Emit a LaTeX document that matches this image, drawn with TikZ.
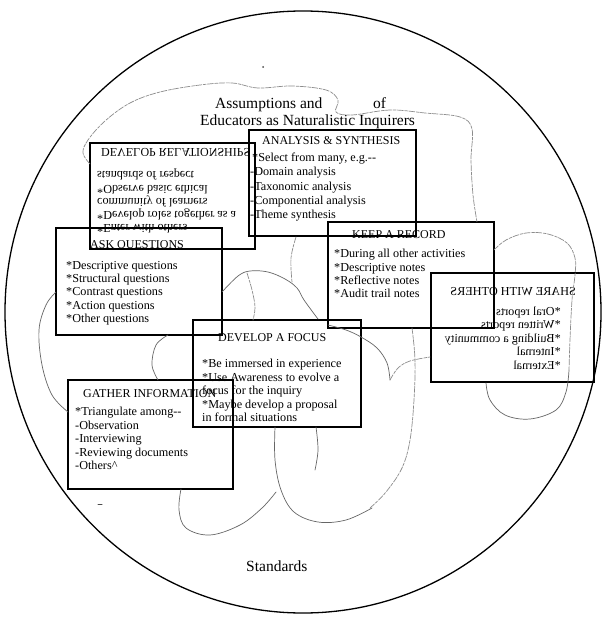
\documentclass[tikz,border=0pt]{standalone}
\usepackage{fontspec}
\setmainfont{Liberation Serif}
\usepackage{graphicx}
\begin{document}
\begin{tikzpicture}[x=1pt,y=-1pt,
  boxframe/.style={draw, line width=1.2pt, inner sep=0pt},
  ttl/.style={font=\fontsize{15.5}{17}\selectfont, anchor=base west, inner sep=0pt},
  hdr/.style={font=\fontsize{12}{13}\selectfont, anchor=base west, inner sep=0pt},
  itm/.style={font=\fontsize{12.2}{13}\selectfont, anchor=base west, inner sep=0pt},
  ritm/.style={font=\fontsize{12.2}{13}\selectfont, anchor=base east, inner sep=0pt},
  wavy/.style={black!45, line width=0.7pt, dash pattern=on 6pt off 1.5pt on 3pt off 1.2pt, line cap=round},
  solidwavy/.style={black!60, line width=0.7pt, line cap=round},
  speck/.style={black!70, line width=1pt, line cap=round}]
\useasboundingbox (0,0) rectangle (602,617);
\fill[white] (0,0) rectangle (602,617);
% outer circle
\draw[line width=1.3pt] (303,312) ellipse [x radius=298, y radius=301];

% boxes
\node[boxframe, minimum width=167, minimum height=106] (anl) at (332.5,183) {};
\node[boxframe, minimum width=165, minimum height=106] (drel) at (172.5,196) {};
\node[boxframe, minimum width=166, minimum height=107] (ask) at (139,281.5) {};
\node[boxframe, minimum width=166, minimum height=106] (keep) at (411,275) {};
\node[boxframe, minimum width=163, minimum height=109] (share) at (512.5,327.5) {};
\node[boxframe, minimum width=168, minimum height=107] (daf) at (277,373.5) {};
\node[boxframe, minimum width=165, minimum height=109] (gath) at (150.5,434.5) {};

% title
\node[ttl] (t1) at (215,109) {Assumptions and};
\node[ttl] (t2) at (373,109) {of};
\node[ttl] (t3) at (200,126) {Educators as Naturalistic Inquirers};
\node[ttl] (std) at (246,571) {Standards};

% analysis & synthesis
\node[hdr] (anlh) at (262,145) {ANALYSIS \& SYNTHESIS};
\node[itm] (anl1) at (252,162) {*Select from many, e.g.-{}-};
\node[itm] (anl2) at (250,176) {-Domain analysis};
\node[itm] (anl3) at (250,191) {-Taxonomic analysis};
\node[itm] (anl4) at (250,205) {-Componential analysis};
\node[itm] (anl5) at (250,219) {-Theme synthesis};

% develop relationships (flipped vertically)
\node[hdr] (drh) at (101,149) {\scalebox{1}[-1]{DEVELOP RELATIONSHIPS}};
\node[itm] (dr1) at (97,172) {\scalebox{1}[-1]{standards of respect}};
\node[itm] (dr2) at (97,186) {\scalebox{1}[-1]{*Observe basic ethical}};
\node[itm] (dr3) at (97,199) {\scalebox{1}[-1]{community of learners}};
\node[itm] (dr4) at (97,212) {\scalebox{1}[-1]{*Develop roles together as a}};
\node[itm] (dr5) at (97,225) {\scalebox{1}[-1]{*Enter with others}};

% ask questions
\node[hdr] (askh) at (90,248) {ASK QUESTIONS};
\node[itm] (ask1) at (66,269) {*Descriptive questions};
\node[itm] (ask2) at (66,282) {*Structural questions};
\node[itm] (ask3) at (66,295) {*Contrast questions};
\node[itm] (ask4) at (66,309) {*Action questions};
\node[itm] (ask5) at (66,322) {*Other questions};

% keep a record
\node[hdr] (keeph) at (352,239) {KEEP A RECORD};
\node[itm] (keep1) at (334,257) {*During all other activities};
\node[itm] (keep2) at (334,271) {*Descriptive notes};
\node[itm] (keep3) at (334,284) {*Reflective notes};
\node[itm] (keep4) at (334,297) {*Audit trail notes};

% share with others (mirrored)
\node[ritm] (shh) at (576,295) {\scalebox{-1}[1]{SHARE WITH OTHERS}};
\node[ritm] (sh1) at (561,315) {\scalebox{-1}[1]{*Oral reports}};
\node[ritm] (sh2) at (561,328.5) {\scalebox{-1}[1]{*Written reports}};
\node[ritm] (sh3) at (561,342) {\scalebox{-1}[1]{*Building a community}};
\node[ritm] (sh4) at (561,355.5) {\scalebox{-1}[1]{*Internal}};
\node[ritm] (sh5) at (561,369) {\scalebox{-1}[1]{*External}};

% develop a focus
\node[hdr] (dafh) at (218,341) {DEVELOP A FOCUS};
\node[itm] (daf1) at (202,367) {*Be immersed in experience};
\node[itm] (daf2) at (202,381) {*Use Awareness to evolve a};
\node[itm] (daf3) at (202,394) {focus for the inquiry};
\node[itm] (daf4) at (202,408) {*Maybe develop a proposal};
\node[itm] (daf5) at (202,421) {in formal situations};

% gather information
\node[hdr] (gathh) at (83,397) {GATHER INFORMATION};
\node[itm] (g1) at (75,415) {*Triangulate among-{}-};
\node[itm] (g2) at (75,429) {-Observation};
\node[itm] (g3) at (75,442) {-Interviewing};
\node[itm] (g4) at (75,456) {-Reviewing documents};
\node[itm] (g5) at (75,469) {-Others\^{}};

% hand-drawn wavy lines
\draw[wavy] plot[smooth, tension=0.6] coordinates {(90,164) (83,153) (88,140) (105,121) (130,103) (160,92) (200,85) (232,83) (258,88) (292,86) (326,90) (338,100) (336,112) (352,115) (390,110) (425,113) (460,117) (472,129) (471,160) (473,195) (477,222)};
\draw[wavy] plot[smooth, tension=0.6] coordinates {(494,250) (506,240) (526,233) (548,234) (567,243) (575,258) (575,275) (572,300) (570,340) (569,370)};
\draw[solidwavy] plot[smooth, tension=0.6] coordinates {(569,370) (566,392) (556,410) (530,419) (505,415) (490,400) (486,383)};
\draw[solidwavy] plot[smooth, tension=0.6] coordinates {(56,292) (46,305) (39,330) (42,365) (52,395) (68,412)};
\draw[solidwavy] plot[smooth, tension=0.6] coordinates {(168,335) (156,345) (152,365) (158,380)};
\draw[solidwavy] plot[smooth, tension=0.6] coordinates {(222,292) (238,276) (250,271) (268,272) (285,279) (297,288) (304,300) (318,319)};
\draw[wavy] plot[smooth, tension=0.6] coordinates {(247,273) (252,290) (255,307) (253,320)};
\draw[wavy] plot[smooth, tension=0.6] coordinates {(296,237) (291,258) (292,282)};
\draw[solidwavy] plot[smooth, tension=0.6] coordinates {(328,325) (346,330) (361,337) (377,348) (387,363) (390,380)};
\draw[wavy] plot[smooth, tension=0.6] coordinates {(390,380) (398,368) (410,361) (430,357)};
\draw[wavy] plot[smooth, tension=0.6] coordinates {(412,328) (415,360) (414,400) (410,440) (402,468) (386,492) (370,508)};
\draw[solidwavy] plot[smooth, tension=0.6] coordinates {(275,427) (275,460) (281,490) (294,512) (318,522) (346,520) (372,508)};
\draw[solidwavy] plot[smooth, tension=0.6] coordinates {(316,427) (318,450) (315,470)};
\draw[solidwavy] plot[smooth, tension=0.6] coordinates {(181,489) (179,510) (186,528) (210,535) (240,525) (262,508) (276,492)};
% small specks from the scan
\fill[black!70] (263,67) circle (1pt);
\draw[speck] (98,504) -- (102,504);
\end{tikzpicture}
\end{document}
